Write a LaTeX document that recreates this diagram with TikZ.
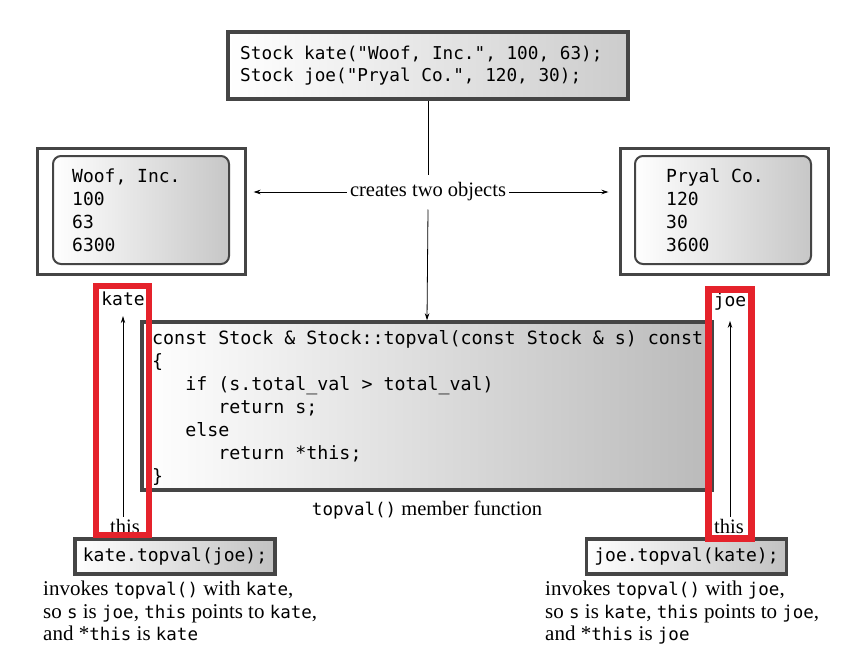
\documentclass[tikz,border=0pt]{standalone}
\usepackage{fontspec}
\setmainfont{Liberation Serif}
\setmonofont{DejaVu Sans Mono}
\usepackage{tikz}
\usetikzlibrary{positioning}
\usetikzlibrary{calc}
\usetikzlibrary{arrows.meta}

\definecolor{boxedge}{HTML}{454545}
\definecolor{markred}{HTML}{E5222B}

\newcommand{\codesize}{\ttfamily\fontsize{18}{23}\selectfont}
\newcommand{\cd}[1]{{\ttfamily\fontsize{17.5}{22}\selectfont #1}}

\tikzset{
    codebox/.style={draw=boxedge, line width=3.5pt, left color=white, right color=black!20, inner sep=0pt},
    objframe/.style={draw=boxedge, line width=3pt, fill=white, inner sep=0pt},
    objbox/.style={draw=boxedge, line width=2pt, rounded corners=8pt, left color=white, right color=black!22, inner sep=0pt},
    markbox/.style={draw=markred, line width=6.5pt, inner sep=0pt},
    codetext/.style={inner sep=0pt, align=left, font=\codesize},
    desc/.style={inner sep=0pt, align=left, font=\fontsize{21}{22.5}\selectfont},
    ptr/.style={line width=0.8pt, -{Stealth[length=7pt, width=4.5pt]}}
}

\begin{document}
\begin{tikzpicture}[x=1pt, y=-1pt]
    \useasboundingbox (0,0) rectangle (853,654);

    % declarations
    \node [codebox, minimum width=400pt, minimum height=67pt] (decl) at (428,65.5) {};
    \node [codetext, anchor=west, font=\ttfamily\fontsize{17.7}{22}\selectfont] (decltext) at (240,65.5)
        {Stock kate("Woof, Inc.", 100, 63);\\Stock joe("Pryal Co.", 120, 30);};

    % objects
    \node [objframe, minimum width=208pt, minimum height=126pt] (kateobj) at (141,211) {};
    \node [objbox, minimum width=176pt, minimum height=108pt] (katein) at (141,210) {};
    \node [codetext, anchor=west] (katedata) at (72,210.5) {Woof, Inc.\\100\\63\\6300};

    \node [objframe, minimum width=208pt, minimum height=126pt] (joeobj) at (724,211) {};
    \node [objbox, minimum width=176pt, minimum height=108pt] (joein) at (723,210) {};
    \node [codetext, anchor=west] (joedata) at (666,210.5) {Pryal Co.\\120\\30\\3600};

    % member function
    \node [codebox, right color=black!27, minimum width=570pt, minimum height=168pt] (func) at (427,406) {};
    \node [codetext, anchor=west, font=\ttfamily\fontsize{18.3}{23}\selectfont] (functext) at (152,408)
        {const Stock \& Stock::topval(const Stock \& s) const\\
         \{\\
         \hphantom{xxx}if (s.total\_val > total\_val)\\
         \hphantom{xxxxxx}return s;\\
         \hphantom{xxx}else\\
         \hphantom{xxxxxx}return *this;\\
         \}};
    \node [font=\fontsize{20.5}{22}\selectfont] (funclabel) at (427,510) {\cd{topval()} member function};

    % creates two objects
    \node [fill=white, inner xsep=3pt, inner ysep=8pt, font=\fontsize{20.5}{22}\selectfont] (creates) at (428,192) {creates two objects};
    \draw [line width=0.8pt] (decl.south) -- (creates.north);
    \draw [ptr] (creates.south) -- (func.north);
    \draw [ptr] (creates.west) -- ([xshift=7pt]kateobj.east |- creates.west);
    \draw [ptr] (creates.east) -- ([xshift=-10pt]joeobj.west |- creates.east);

    % calls
    \node [codebox, right color=black!24, minimum width=200pt, minimum height=35pt, font=\codesize] (katecall) at (175,556.5) {kate.topval(joe);};
    \node [codebox, right color=black!24, minimum width=200pt, minimum height=35pt, font=\codesize] (joecall) at (686.5,556.5) {joe.topval(kate);};

    \node [desc, anchor=north west] (katedesc) at (43,581)
        {invokes \cd{topval()} with \cd{kate},\\so \cd{s} is \cd{joe}, \cd{this} points to \cd{kate},\\and *\cd{this} is \cd{kate}};
    \node [desc, anchor=north west] (joedesc) at (545,581)
        {invokes \cd{topval()} with \cd{joe},\\so \cd{s} is \cd{kate}, \cd{this} points to \cd{joe},\\and *\cd{this} is \cd{joe}};

    % this pointers
    \node [font=\codesize, inner sep=2pt] (katelbl) at (123,299) {kate};
    \node [font=\fontsize{20.5}{22}\selectfont, inner sep=2pt] (katethis) at (125,526) {this};
    \draw [ptr] (katethis.north -| katelbl.south) -- ([yshift=-8pt]katelbl.south);

    \node [font=\codesize, inner sep=2pt] (joelbl) at (730,302) {joe};
    \node [font=\fontsize{20.5}{22}\selectfont, inner sep=2pt] (joethis) at (729,526) {this};
    \draw [ptr] (joethis.north -| joelbl.south) -- ([yshift=-8pt]joelbl.south);

    \node [markbox, minimum width=53pt, minimum height=249pt] (katemark) at (122.5,410.5) {};
    \node [markbox, minimum width=43pt, minimum height=249pt] (joemark) at (730,414) {};
\end{tikzpicture}
\end{document}
